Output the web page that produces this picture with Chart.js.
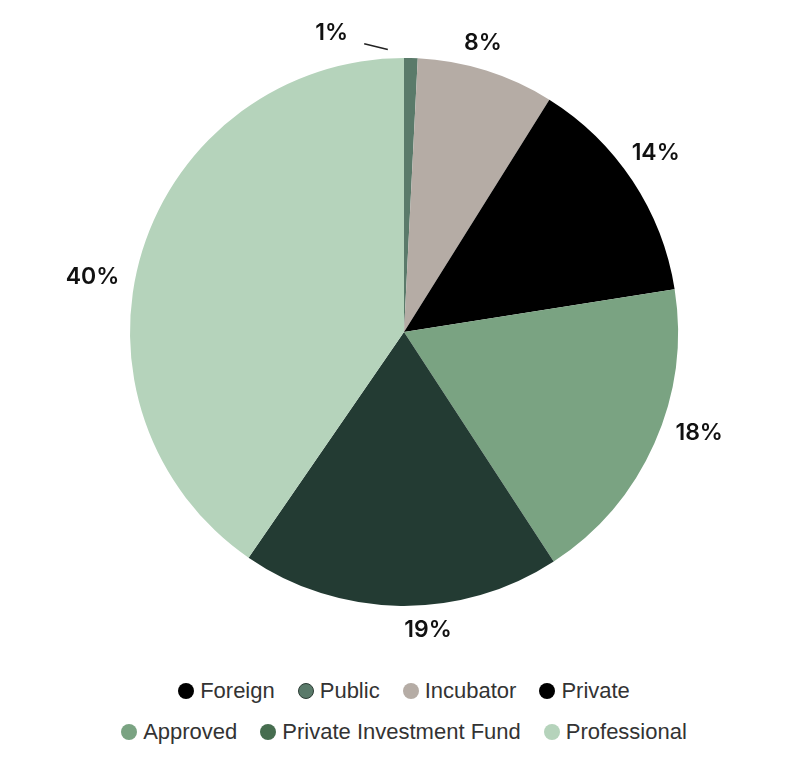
<!DOCTYPE html>
<html lang="en">
<head>
<meta charset="UTF-8">
<script src="https://cdn.jsdelivr.net/npm/chart.js@4.4.1/dist/chart.umd.min.js"></script>
<title>Pie</title>
<style>
  html, body { margin: 0; padding: 0; background: #fff; }
  #wrap { position: relative; width: 800px; height: 768px; }
  #chartBox { position: absolute; left: 0; top: 0; width: 800px; height: 660px; }
  .row {
    position: absolute; left: 8px; width: 792px;
    display: flex; justify-content: center; align-items: center;
    font-family: "Liberation Sans", Arial, sans-serif; font-size: 22px; color: #333;
    line-height: 26px;
  }
  .item { display: flex; align-items: center; margin: 0 11.5px; }
  .dot { width: 16px; height: 16px; border-radius: 50%; margin-right: 6px; box-sizing: border-box; }
</style>
</head>
<body>
<div id="wrap">
  <div id="chartBox"><canvas id="pie"></canvas></div>
  <div class="row" id="row1" style="top:678px"></div>
  <div class="row" id="row2" style="top:719px"></div>
</div>
<script>
const categories = ["Foreign", "Public", "Incubator", "Private", "Approved", "Private Investment Fund", "Professional"];
const shares = [0, 0.8, 8.1, 13.6, 18.3, 18.8, 40.4];
const shareLabels = ["0%", "1%", "8%", "14%", "18%", "19%", "40%"];
const legendRows = [[0, 1, 2, 3], [4, 5, 6]];

const sliceColors = ["#000000", "#5a7a6a", "#b5aca5", "#000000", "#7aa382", "#233b33", "#b5d3bb"];
const legendColors = ["#000000", "#5a7a6a", "#b5aca5", "#000000", "#7aa382", "#466d4f", "#b5d3bb"];

// legend as html, two fixed rows like the original
legendRows.forEach((idx, r) => {
  const row = document.getElementById("row" + (r + 1));
  idx.forEach(i => {
    const item = document.createElement("span");
    item.className = "item";
    const dot = document.createElement("span");
    dot.className = "dot";
    dot.style.background = legendColors[i];
    if (i === 1) dot.style.border = "1.5px solid #2d3d35";
    const txt = document.createElement("span");
    txt.textContent = categories[i];
    item.appendChild(dot);
    item.appendChild(txt);
    row.appendChild(item);
  });
});

// percent labels outside the pie, small slices get a leader line
const outsideLabels = {
  id: "outsideLabels",
  afterDatasetsDraw(chart) {
    const ctx = chart.ctx;
    const arcs = chart.getDatasetMeta(0).data;
    const gap = 16, boxH = 17;
    ctx.save();
    ctx.font = "600 23px Inter";
    ctx.fillStyle = "#111";
    ctx.textAlign = "center";
    ctx.textBaseline = "middle";
    arcs.forEach((arc, i) => {
      if (!shares[i]) return;
      // labels sit a little counter-clockwise of the slice middle
      const fromTop = (arc.startAngle + arc.endAngle) / 2 + Math.PI / 2;
      const mid = fromTop * 0.985 - 0.042 - Math.PI / 2;
      const R = arc.outerRadius;
      if (shares[i] < 2) {
        const a = mid - 0.22;
        ctx.fillText(shareLabels[i], arc.x + Math.cos(a) * (R + 34), arc.y + Math.sin(a) * (R + 34));
        ctx.strokeStyle = "#222";
        ctx.lineWidth = 1.5;
        ctx.beginPath();
        ctx.moveTo(arc.x + Math.cos(mid - 0.12) * (R + 17), arc.y + Math.sin(mid - 0.12) * (R + 17));
        ctx.lineTo(arc.x + Math.cos(mid - 0.04) * (R + 9), arc.y + Math.sin(mid - 0.04) * (R + 9));
        ctx.stroke();
        return;
      }
      const w = ctx.measureText(shareLabels[i]).width;
      const dx = Math.cos(mid), dy = Math.sin(mid);
      const x = arc.x + dx * (R + gap) + dx * w / 2;
      const y = arc.y + dy * (R + gap) + dy * boxH / 2;
      ctx.fillText(shareLabels[i], x, y);
    });
    ctx.restore();
  }
};

new Chart(document.getElementById("pie"), {
  type: "pie",
  data: {
    labels: categories,
    datasets: [{
      data: shares,
      backgroundColor: sliceColors,
      borderWidth: 0,
      radius: 274
    }]
  },
  options: {
    responsive: true,
    maintainAspectRatio: false,
    animation: false,
    layout: { padding: { top: 4, left: 8 } },
    plugins: {
      tooltip: { enabled: false },
      legend: { display: false }
    }
  },
  plugins: [outsideLabels]
});
</script>
</body>
</html>
